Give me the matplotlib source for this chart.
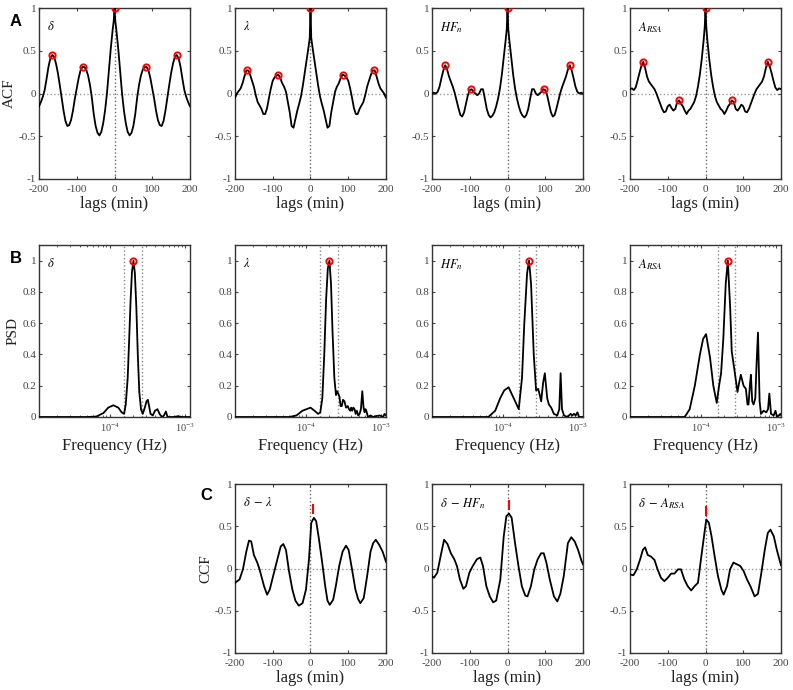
import numpy as np
import matplotlib.pyplot as plt
from matplotlib.ticker import FixedLocator, FuncFormatter, LogLocator, NullFormatter

plt.rcParams.update({
    'font.family': 'Liberation Serif',
    'mathtext.fontset': 'stix',
    'axes.unicode_minus': False,
    'font.size': 8,
    'axes.linewidth': 1.0,
    'axes.edgecolor': '#333333',
    'xtick.direction': 'in',
    'ytick.direction': 'in',
    'xtick.top': True,
    'ytick.right': True,
    'xtick.color': '#444444',
    'ytick.color': '#444444',
    'xtick.labelsize': 8,
    'ytick.labelsize': 8,
})

# ---------------- A: autocorrelation (one-sided, symmetric) ----------------
acf_lags = [0, 2, 5, 10, 15, 20, 25, 30, 35, 40, 45, 50, 55, 60, 65, 70, 75, 80, 85, 90,
            95, 100, 105, 110, 115, 120, 125, 130, 135, 140, 145, 150, 155, 160, 165,
            170, 175, 180, 185, 190, 195, 200]
acf_delta = [1.0, 0.85, 0.74, 0.52, 0.26, 0.0, -0.20, -0.35, -0.45, -0.49, -0.46, -0.38,
             -0.24, -0.05, 0.10, 0.21, 0.28, 0.31, 0.31, 0.27, 0.18, 0.06, -0.06, -0.20,
             -0.31, -0.37, -0.38, -0.32, -0.20, -0.05, 0.10, 0.24, 0.35, 0.43, 0.45, 0.41,
             0.31, 0.17, 0.04, -0.04, -0.10, -0.15]
acf_lambda = [1.0, 0.65, 0.55, 0.40, 0.25, 0.10, -0.03, -0.12, -0.20, -0.30, -0.40, -0.38,
              -0.22, -0.10, 0.02, 0.08, 0.12, 0.18, 0.22, 0.21, 0.19, 0.15, 0.06, -0.05,
              -0.17, -0.24, -0.24, -0.18, -0.14, -0.10, -0.02, 0.08, 0.15, 0.22, 0.27, 0.27,
              0.20, 0.12, 0.06, 0.03, 0.0, -0.05]
acf_hf = [1.0, 0.75, 0.62, 0.42, 0.22, 0.06, -0.06, -0.15, -0.22, -0.26, -0.28, -0.25,
          -0.18, -0.06, 0.05, 0.05, 0.0, -0.02, 0.0, 0.02, 0.05, 0.04, -0.02, -0.12,
          -0.22, -0.27, -0.25, -0.17, -0.08, 0.01, 0.08, 0.14, 0.20, 0.28, 0.33, 0.27,
          0.18, 0.08, 0.02, 0.0, 0.01, 0.0]
acf_arsa = [1.0, 0.78, 0.62, 0.40, 0.22, 0.08, -0.03, -0.10, -0.14, -0.18, -0.20, -0.24,
            -0.20, -0.15, -0.12, -0.08, -0.10, -0.18, -0.20, -0.17, -0.13, -0.15, -0.21,
            -0.22, -0.18, -0.12, -0.06, 0.0, 0.05, 0.08, 0.11, 0.14, 0.20, 0.30, 0.37,
            0.32, 0.24, 0.15, 0.07, 0.04, 0.06, 0.05]
acf_peak_lags = [[0, 84, 165], [0, 85, 167], [0, 97, 165], [0, 71, 165]]
acf_peak_vals = [[1.0, 0.31, 0.45], [1.0, 0.22, 0.28], [1.0, 0.05, 0.33], [1.0, -0.08, 0.37]]
acf_names = [r'$\delta$', r'$\lambda$', r'$HF_n$', r'$A_{RSA}$']

# ---------------- B: power spectral density (freq in 1e-4 Hz) ----------------
psd_f_delta = [0.115, 0.5, 0.66, 0.82, 0.95, 1.11, 1.29, 1.43, 1.54, 1.62, 1.72, 1.80, 1.88,
               1.96, 2.05, 2.14, 2.24, 2.34, 2.45, 2.58, 2.72, 2.90, 3.05, 3.18, 3.30, 3.45,
               3.70, 3.95, 4.27, 4.54, 4.88, 5.20, 5.51, 5.80, 7.0, 8.0, 9.0, 11.5]
psd_delta = [0, 0, 0.003, 0.025, 0.06, 0.075, 0.06, 0.03, 0.02, 0.08, 0.25, 0.50, 0.75,
             0.93, 1.0, 0.92, 0.70, 0.40, 0.16, 0.05, 0.02, 0.06, 0.10, 0.11, 0.07, 0.02,
             0.01, 0.04, 0.05, 0.02, 0.0, 0.01, 0.035, 0.0, 0.0, 0.005, 0.0, 0.0]
psd_f_lambda = [0.115, 0.6, 0.75, 0.9, 1.15, 1.3, 1.45, 1.55, 1.65, 1.75, 1.85, 1.95, 2.05,
                2.15, 2.25, 2.38, 2.50, 2.59, 2.68, 2.78, 2.88, 2.99, 3.10, 3.24, 3.40, 3.59,
                3.72, 3.86, 3.98, 4.10, 4.25, 4.41, 4.55, 4.73, 4.92, 5.14, 5.35, 5.58, 5.80,
                5.99, 6.15, 6.31, 6.64, 7.2, 7.74, 8.3, 9.5, 10.5, 11.0, 11.5]
psd_lambda = [0, 0, 0.01, 0.04, 0.06, 0.04, 0.02, 0.03, 0.12, 0.40, 0.75, 0.95, 1.0, 0.85,
              0.55, 0.25, 0.14, 0.165, 0.15, 0.13, 0.07, 0.07, 0.11, 0.10, 0.06, 0.07, 0.05,
              0.04, 0.06, 0.04, 0.06, 0.05, 0.02, 0.04, 0.01, 0.02, 0.05, 0.165, 0.06, 0.03,
              0.05, 0.04, 0.0, 0.01, 0.0, 0.005, 0.01, 0.0, 0.02, 0.01]
psd_f_hf = [0.115, 0.64, 0.79, 0.92, 1.04, 1.19, 1.39, 1.62, 1.79, 1.92, 2.09, 2.22, 2.36,
            2.56, 2.75, 2.93, 3.08, 3.21, 3.41, 3.59, 3.86, 4.06, 4.36, 4.73, 5.25, 5.58,
            5.81, 6.06, 6.44, 7.13, 7.9, 8.3, 8.76, 9.2, 9.71, 10.2, 10.8, 12.0]
psd_hf = [0, 0, 0.04, 0.12, 0.17, 0.19, 0.12, 0.05, 0.25, 0.6, 0.92, 1.0, 0.85, 0.4, 0.17,
          0.18, 0.14, 0.10, 0.22, 0.28, 0.12, 0.08, 0.06, 0.02, 0.01, 0.05, 0.28, 0.05,
          0.01, 0.0, 0.02, 0.01, 0.02, 0.01, 0.03, 0.0, 0.0, 0.0]
psd_f_arsa = [0.115, 0.61, 0.71, 0.83, 0.97, 1.07, 1.17, 1.32, 1.46, 1.62, 1.74, 1.85, 1.98,
              2.13, 2.27, 2.44, 2.56, 2.78, 3.05, 3.21, 3.38, 3.67, 3.94, 4.14, 4.27, 4.45,
              4.59, 4.78, 4.98, 5.25, 5.47, 5.70, 5.99, 6.24, 6.77, 7.35, 7.74, 8.06, 8.48,
              9.21, 9.71, 10.2, 11.3, 11.9]
psd_arsa = [0, 0, 0.05, 0.2, 0.40, 0.50, 0.53, 0.38, 0.2, 0.09, 0.2, 0.28, 0.5, 0.85, 1.0,
            0.7, 0.42, 0.3, 0.16, 0.22, 0.27, 0.2, 0.18, 0.08, 0.08, 0.2, 0.27, 0.1, 0.08,
            0.12, 0.35, 0.54, 0.1, 0.02, 0.04, 0.03, 0.05, 0.15, 0.02, 0.01, 0.04, 0.0,
            0.02, 0.0]
psd_peak_f = [2.05, 2.05, 2.22, 2.27]
psd_bands = [(1.54, 2.64), (1.55, 2.66), (1.62, 2.75), (1.67, 2.84)]

# ---------------- C: cross-correlation ----------------
ccf_lags_lambda = [-200, -188, -179, -170, -163, -157, -150, -141, -135, -123, -115, -108,
                   -99, -90, -79, -72, -65, -57, -48, -40, -31, -21, -12, -4, 2, 9, 15, 22,
                   31, 39, 45, 51, 60, 67, 76, 85, 94, 101, 110, 119, 126, 132, 141, 150,
                   159, 166, 173, 182, 191, 200]
ccf_lambda = [-0.17, -0.13, -0.01, 0.20, 0.33, 0.32, 0.16, 0.07, -0.01, -0.21, -0.31, -0.25,
              -0.09, 0.07, 0.26, 0.29, 0.22, -0.03, -0.25, -0.38, -0.44, -0.41, -0.25, 0.11,
              0.54, 0.60, 0.56, 0.36, 0.07, -0.21, -0.38, -0.43, -0.37, -0.21, 0.03, 0.20,
              0.27, 0.22, -0.01, -0.25, -0.36, -0.41, -0.35, -0.09, 0.20, 0.30, 0.34, 0.28,
              0.20, 0.08]
ccf_lags_hf = [-200, -195, -186, -177, -168, -159, -150, -141, -134, -126, -117, -110, -101,
               -92, -81, -72, -65, -56, -47, -38, -30, -19, -10, -3, 4, 11, 20, 29, 38, 47,
               53, 62, 71, 80, 89, 96, 103, 112, 123, 132, 140, 149, 160, 169, 178, 187,
               196, 200]
ccf_hf = [-0.09, -0.11, -0.05, 0.15, 0.34, 0.29, 0.18, 0.11, 0.03, -0.13, -0.24, -0.21,
          -0.05, 0.03, 0.11, 0.13, 0.03, -0.21, -0.33, -0.40, -0.38, -0.13, 0.38, 0.62, 0.65,
          0.60, 0.30, 0.03, -0.21, -0.32, -0.33, -0.21, -0.01, 0.11, 0.18, 0.18, 0.07, -0.13,
          -0.33, -0.39, -0.30, -0.09, 0.30, 0.37, 0.32, 0.22, 0.09, 0.05]
ccf_lags_arsa = [-200, -191, -182, -173, -166, -160, -153, -144, -135, -127, -118, -109,
                 -100, -91, -82, -73, -65, -56, -47, -38, -29, -20, -12, -4, 2, 9, 16, 24,
                 33, 42, 48, 57, 65, 74, 83, 92, 101, 110, 119, 130, 139, 148, 157, 165,
                 172, 181, 189, 198, 200]
ccf_arsa = [-0.07, -0.08, -0.01, 0.11, 0.22, 0.25, 0.16, 0.14, 0.10, -0.01, -0.11, -0.15,
            -0.11, -0.06, -0.06, -0.01, -0.01, -0.13, -0.21, -0.26, -0.21, -0.17, 0.11, 0.38,
            0.58, 0.54, 0.38, 0.15, -0.09, -0.25, -0.31, -0.21, -0.01, 0.07, 0.05, 0.03,
            -0.03, -0.13, -0.21, -0.33, -0.30, -0.05, 0.22, 0.42, 0.46, 0.38, 0.22, 0.07, 0.04]
ccf_peak_lag = [7, 5, 0]
ccf_peak_val = [0.60, 0.65, 0.58]
ccf_names = [r'$\delta\;-\;\lambda$', r'$\delta\;-\;HF_n$', r'$\delta\;-\;A_{RSA}$']

# ---------------- layout ----------------
W, H = 793, 690
fig = plt.figure(figsize=(W / 100, H / 100), dpi=100)
col_left = [39, 235, 432, 630]
ax_w = 151


def make_ax(left, top, h):
    return fig.add_axes([left / W, 1 - (top + h) / H, ax_w / W, h / H])


def fmt_num(v, pos):
    return '%g' % v


def lag_axes(ax, ylab=None):
    ax.set_xlim(-200, 200)
    ax.set_ylim(-1, 1)
    ax.xaxis.set_major_locator(FixedLocator([-200, -100, 0, 100, 200]))
    ax.yaxis.set_major_locator(FixedLocator([-1, -0.5, 0, 0.5, 1]))
    ax.yaxis.set_major_formatter(FuncFormatter(fmt_num))
    ax.tick_params(length=2.5, width=0.8, pad=2)
    ax.tick_params(axis='x', pad=4)
    ax.axhline(0, color='#999999', ls=':', lw=1.0, zorder=1)
    ax.axvline(0, color='#666666', ls=':', lw=1.0, zorder=1)
    ax.set_xlabel('lags (min)', fontsize=12, color='#222222', labelpad=2)
    if ylab:
        ax.set_ylabel(ylab, fontsize=11, color='#222222', labelpad=2)


# row A
acf_series = [acf_delta, acf_lambda, acf_hf, acf_arsa]
lags = np.array(acf_lags)
for i, vals in enumerate(acf_series):
    ax = make_ax(col_left[i], 8, 171)
    v = np.array(vals)
    x = np.concatenate([-lags[:0:-1], lags])
    y = np.concatenate([v[:0:-1], v])
    lag_axes(ax, 'ACF' if i == 0 else None)
    ax.plot(x, y, color='black', lw=1.3, zorder=3)
    pl = np.array(acf_peak_lags[i])
    pv = np.array(acf_peak_vals[i])
    ax.plot(np.concatenate([-pl[:0:-1], pl]), np.concatenate([pv[:0:-1], pv]), 'o',
            ms=4.5, mfc='none', mec='red', mew=1.4, zorder=4)
    ax.text(0.05, 0.93, acf_names[i], transform=ax.transAxes, fontsize=9, va='top')

# row B
psd_f = [psd_f_delta, psd_f_lambda, psd_f_hf, psd_f_arsa]
psd_v = [psd_delta, psd_lambda, psd_hf, psd_arsa]
for i in range(4):
    ax = make_ax(col_left[i], 245, 172)
    ax.set_xscale('log')
    ax.set_xlim(1.15e-5, 1.15e-3)
    ax.set_ylim(0, 1.1)
    ax.xaxis.set_major_locator(FixedLocator([1e-4, 1e-3]))
    ax.xaxis.set_minor_locator(LogLocator(base=10, subs=np.arange(2, 10)))
    ax.xaxis.set_minor_formatter(NullFormatter())
    ax.yaxis.set_major_locator(FixedLocator([0, 0.2, 0.4, 0.6, 0.8, 1]))
    ax.yaxis.set_major_formatter(FuncFormatter(fmt_num))
    ax.tick_params(which='major', length=2.5, width=0.8, pad=2)
    ax.tick_params(which='minor', length=1.5, width=0.6)
    ax.tick_params(axis='x', labelsize=7.5, pad=3)
    lo, hi = psd_bands[i]
    ax.axvline(lo * 1e-4, color='#888888', ls=':', lw=1.0, zorder=1)
    ax.axvline(hi * 1e-4, color='#888888', ls=':', lw=1.0, zorder=1)
    ax.plot(np.array(psd_f[i]) * 1e-4, psd_v[i], color='black', lw=1.3, zorder=3)
    ax.plot([psd_peak_f[i] * 1e-4], [1.0], 'o', ms=4.5, mfc='none', mec='red', mew=1.4,
            zorder=4)
    ax.set_xlabel('Frequency (Hz)', fontsize=12, color='#222222', labelpad=3)
    if i == 0:
        ax.set_ylabel('PSD', fontsize=11, color='#222222', labelpad=2)
    ax.text(0.05, 0.93, acf_names[i], transform=ax.transAxes, fontsize=9, va='top')

# row C
ccf_x = [ccf_lags_lambda, ccf_lags_hf, ccf_lags_arsa]
ccf_y = [ccf_lambda, ccf_hf, ccf_arsa]
for i in range(3):
    ax = make_ax(col_left[i + 1], 484, 169)
    lag_axes(ax, 'CCF' if i == 0 else None)
    ax.plot(ccf_x[i], ccf_y[i], color='black', lw=1.3, zorder=3)
    ax.plot([ccf_peak_lag[i]], [ccf_peak_val[i] + 0.1], '|', ms=7, mew=1.5,
            color='red', zorder=4)
    ax.text(0.05, 0.93, ccf_names[i], transform=ax.transAxes, fontsize=9, va='top')

# panel letters
for lab, xp, yp in [('A', 10, 22), ('B', 10, 258), ('C', 200, 496)]:
    fig.text(xp / W, 1 - yp / H, lab, fontsize=12, fontweight='bold',
             family='Liberation Sans', va='center')

fig.savefig('out.png', dpi=100)
